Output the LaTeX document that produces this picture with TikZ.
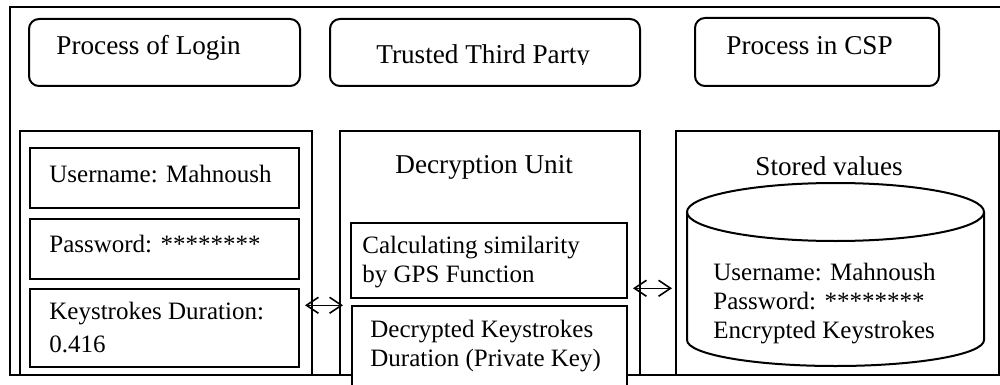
\documentclass[tikz,border=0pt]{standalone}
\usepackage{fontspec}
\setmainfont{Liberation Serif}
\usetikzlibrary{fit,arrows.meta}
\begin{document}
\begin{tikzpicture}[x=0.5pt,y=-0.5pt,
  heavy/.style={line width=1pt},
  rbox/.style={draw, heavy, rounded corners=5pt, inner sep=0pt, fit={#1}},
  colbox/.style={draw, heavy, inner sep=0pt, fit={#1}},
  inbox/.style={draw, line width=0.7pt, inner sep=0pt, fit={#1}},
  head/.style={anchor=base west, inner sep=0pt, font=\fontsize{13.6}{16}\selectfont},
  txt/.style={anchor=base west, inner sep=0pt, font=\fontsize{12.5}{14.5}\selectfont},
  dbl/.style={line width=0.8pt, {Straight Barb[length=6pt,width=8pt]}-{Straight Barb[length=6pt,width=8pt]}}]
\useasboundingbox (0,0) rectangle (1000,385);

% outer frame
\draw[heavy] (1002,7) -- (10,7) -- (10,375) -- (1002,375);

% section titles
\node[rbox={(29,19) (300,86)}] (login) {};
\node[rbox={(330,19) (640,86)}] (ttp) {};
\node[rbox={(695,18) (939,86)}] (csp) {};
\node[head] (loginT) at (56,55) {Process of Login};
\begin{scope}
  \clip (335,20) rectangle (635,64.5);
  \node[head] (ttpT) at (376,64) {Trusted Third Party};
\end{scope}
\node[head] (cspT) at (726,55) {Process in CSP};

% columns
\node[colbox={(20,131) (312,375)}] (left) {};
\node[colbox={(340,131) (640,375)}] (mid) {};
\node[colbox={(676,131) (999,375)}] (right) {};

% login column
\node[inbox={(30,148) (299,208)}] (user) {};
\node[inbox={(30,219) (299,279)}] (pass) {};
\node[inbox={(30,289) (299,367)}] (keys) {};
\node[txt] (userT) at (49,182) {Username: Mahnoush};
\node[txt] (passT) at (49,252) {Password: ********};
\node[txt] (keysT) at (49,319) {\begin{tabular}[t]{@{}l@{}}Keystrokes Duration:\\[2pt]0.416\end{tabular}};

% trusted third party column
\node[head] (decT) at (395,173) {Decryption Unit};
\node[inbox={(351,223) (627,298)}] (calc) {};
\node[inbox={(352,306) (627,398)}, fill=white] (decr) {};
\node[txt] (calcT) at (362,253) {\begin{tabular}[t]{@{}l@{}}Calculating similarity\\by GPS Function\end{tabular}};
\node[txt] (decrT) at (370,337) {\begin{tabular}[t]{@{}l@{}}Decrypted Keystrokes\\Duration (Private Key)\end{tabular}};

% CSP column
\node[head] (storT) at (755,175) {Stored values};
\draw[heavy] (835.5,212) ellipse [x radius=148.5, y radius=29];
\draw[heavy] (687,212) -- (687,340) arc[start angle=180, end angle=0, x radius=148.5, y radius=26] -- (984,212);
\node[txt] (dbT) at (713,280) {\begin{tabular}[t]{@{}l@{}}Username: Mahnoush\\Password: ********\\Encrypted Keystrokes\end{tabular}};

% exchanges between the columns
\draw[dbl] ([xshift=-4pt]left.east |- decr.north) -- ([xshift=2pt]mid.west |- decr.north);
\draw[dbl] ([xshift=-4pt]mid.east |- keys.north) -- ([xshift=-1.5pt]right.west |- keys.north);
\end{tikzpicture}
\end{document}
